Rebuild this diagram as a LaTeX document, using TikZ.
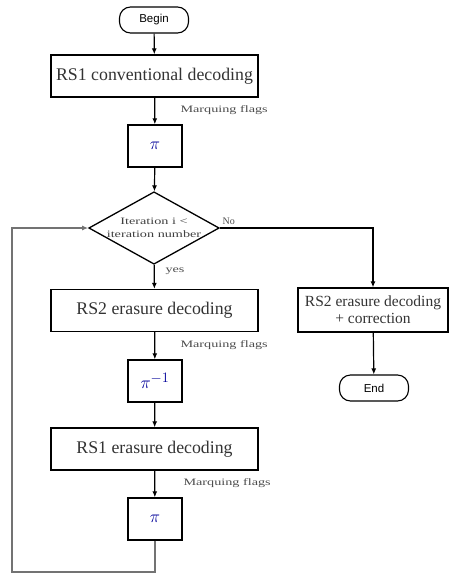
\documentclass[tikz,border=0pt]{standalone}
\usepackage{fontspec}
\setmainfont{Liberation Serif}
\newfontfamily\termfont{Liberation Sans}
\newfontfamily\wideserif[FakeStretch=1.45]{Liberation Serif}
\usetikzlibrary{shapes.geometric,arrows.meta}

\tikzset{
  proc/.style={draw, line width=1.3pt, minimum width=207pt, minimum height=42pt,
    inner sep=2pt, font=\fontsize{17.8}{20}\selectfont, text=black!80},
  perm/.style={draw, line width=1.3pt, minimum width=54pt, minimum height=42pt,
    font=\fontsize{19}{21}\selectfont, text=blue!60!black},
  term/.style={draw, line width=1.1pt, rounded corners=11pt, minimum width=69pt,
    minimum height=26pt, font=\termfont\fontsize{11.5}{13}\selectfont},
  test/.style={draw, diamond, line width=1.3pt, minimum width=122pt, minimum height=68pt,
    aspect=1.8, inner sep=0pt, align=center, font=\wideserif\fontsize{9.8}{13.5}\selectfont,
    text=black!75},
  note/.style={font=\wideserif\fontsize{9.8}{12}\selectfont, text=black!70, anchor=west},
  flow/.style={-{Latex[length=6pt,width=5pt]}, line width=1.2pt},
}

\begin{document}
\begin{tikzpicture}[x=1pt,y=-1pt]
  \useasboundingbox (0,0) rectangle (448,573);

  % main column
  \node[term] (begin) at (154,20) {Begin};
  \node[proc] (rs1c) at (154.5,76) {RS1 conventional decoding};
  \node[perm] (pi1) at (155,146) {$\pi$};
  \node[test] (iter) at (154,228) {Iteration i <\\iteration number};
  \node[proc] (rs2) at (154.5,310.5) {RS2 erasure decoding};
  \node[perm] (pinv) at (155,381) {$\pi^{-1}$};
  \node[proc] (rs1e) at (154.5,449) {RS1 erasure decoding};
  \node[perm] (pi2) at (155,519) {$\pi$};

  % right column
  \node[proc, minimum width=150pt, minimum height=44pt, font=\fontsize{15.5}{17}\selectfont,
    align=center] (rs2c) at (373,310) {RS2 erasure decoding\\+ correction};
  \node[term] (end) at (374,388) {End};

  \node[note] (flag1) at (177,110) {Marquing flags};
  \node[note] (flag2) at (177,345) {Marquing flags};
  \node[note] (flag3) at (180,483) {Marquing flags};
  \node[note, font=\fontsize{10}{12}\selectfont] (no) at (219,221) {No};
  \node[note] (yes) at (162,271) {yes};

  \draw[flow] (begin) -- (rs1c);
  \draw[flow] (rs1c) -- (pi1);
  \draw[flow] (pi1) -- (iter);
  \draw[flow] (iter) -- (rs2);
  \draw[flow] (rs2) -- (pinv);
  \draw[flow] (pinv) -- (rs1e);
  \draw[flow] (rs1e) -- (pi2);
  \draw[flow] (iter.east) -| (rs2c.north);
  \draw[flow] (rs2c) -- (end);

  % back to the test
  \coordinate (loopb) at (12,572);
  \draw[flow, draw=black!55, line width=1.4pt] (pi2.south) |- (loopb) |- (iter.west);
\end{tikzpicture}
\end{document}
